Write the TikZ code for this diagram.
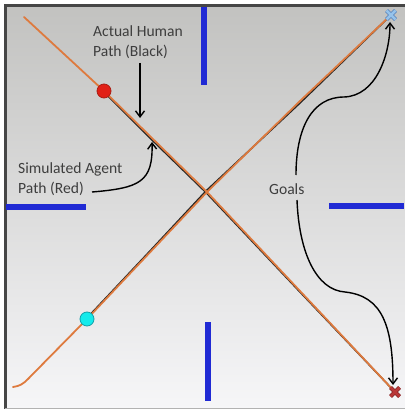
\documentclass[tikz,border=0pt]{standalone}
\usepackage{fontspec}
\setmainfont{Carlito}
\usetikzlibrary{arrows.meta,calc}
\definecolor{pathorange}{RGB}{222,122,62}
\definecolor{pathblack}{RGB}{40,38,36}
\definecolor{wallblue}{RGB}{32,42,212}
\definecolor{txtgray}{RGB}{62,62,62}
\definecolor{bgtop}{RGB}{194,194,192}
\definecolor{bgbot}{RGB}{246,246,248}
\definecolor{framegray}{RGB}{70,70,70}
\definecolor{startred}{RGB}{225,32,22}
\definecolor{startredd}{RGB}{170,30,20}
\definecolor{startcyan}{RGB}{20,235,235}
\definecolor{startcyand}{RGB}{20,160,170}
\definecolor{goalblue}{RGB}{150,195,235}
\definecolor{goalblued}{RGB}{80,125,185}
\definecolor{goalred}{RGB}{185,55,55}
\definecolor{goalredd}{RGB}{130,35,35}
\tikzset{
  lbl/.style={font=\fontsize{15.6}{20}\selectfont, text=txtgray, align=left, inner sep=0pt, anchor=base west},
  wall/.style={fill=wallblue, draw=none},
  opath/.style={draw=pathorange, line width=1.8pt, line cap=round, line join=round},
  bpath/.style={draw=pathblack, line width=1.6pt, line cap=round, line join=round},
  callout/.style={draw=black, line width=1.4pt, -{Straight Barb[length=6pt,width=9pt,line width=1.4pt]}},
  startdot/.style={circle, minimum size=14pt, inner sep=0pt, line width=0.8pt},
  goalpt/.style={inner sep=0pt, minimum size=1pt}
}
\begin{document}
\begin{tikzpicture}[x=1pt,y=-1pt]
\useasboundingbox (0,0) rectangle (404,409);
% background and frame
\shade[top color=bgtop, bottom color=bgbot] (5,5) rectangle (406,409);
\draw[framegray, line width=2.5pt] (5.5,409) -- (5.5,5.5) -- (406,5.5);
\draw[gray!60, line width=1pt] (5,408) -- (406,408);
% walls
\fill[wall] (201,7) rectangle (207,85);
\fill[wall] (6,204) rectangle (86,210);
\fill[wall] (329,203) rectangle (404,209);
\fill[wall] (205,322) rectangle (211,401);
% nodes
\node[goalpt] (g1) at (391,15) {};
\node[goalpt] (g2) at (395,392) {};
\coordinate (a1) at (24,17);
\coordinate (b1) at (13,387);
\coordinate (x) at (207,192);
% black paths (human)
\draw[bpath] (104,92) -- (150,138) -- (207,193.5) -- (300,292) -- (g2);
\draw[bpath] (87,318) -- (150,251) -- (206,191) -- (300,103) -- (g1);
% orange paths (agent)
\draw[opath] (a1) -- (104,91) -- (x) -- (300,291) -- (g2);
\draw[opath] (b1) .. controls (20,386) and (23,384) .. (28,379) -- (87,319) -- (x) -- (300,101) -- (g1);
% start points
\node[startdot, fill=startred, draw=startredd] (s1) at (104,91) {};
\node[startdot, fill=startcyan, draw=startcyand] (s2) at (87,319) {};
% goals
\draw[goalblued, line width=4.2pt] ($(g1)+(-4.5,-4.5)$) -- ($(g1)+(4.5,4.5)$) ($(g1)+(-4.5,4.5)$) -- ($(g1)+(4.5,-4.5)$);
\draw[goalblue, line width=2.6pt] ($(g1)+(-4.5,-4.5)$) -- ($(g1)+(4.5,4.5)$) ($(g1)+(-4.5,4.5)$) -- ($(g1)+(4.5,-4.5)$);
\draw[goalredd, line width=4.2pt] ($(g2)+(-4.5,-4.5)$) -- ($(g2)+(4.5,4.5)$) ($(g2)+(-4.5,4.5)$) -- ($(g2)+(4.5,-4.5)$);
\draw[goalred, line width=2.6pt] ($(g2)+(-4.5,-4.5)$) -- ($(g2)+(4.5,4.5)$) ($(g2)+(-4.5,4.5)$) -- ($(g2)+(4.5,-4.5)$);
% labels
\node[lbl] (human) at (93,57) {Actual Human\\Path (Black)};
\node[lbl] (agent) at (18,193) {Simulated Agent\\Path (Red)};
\node[lbl] (goals) at (269,194) {Goals};
% callouts
\coordinate (h0) at (140,63);
\coordinate (h1) at (140,118);
\draw[callout] (h0) -- (h1);
\coordinate (r0) at (92,192);
\coordinate (r1) at (152,142);
\draw[callout] (r0) .. controls (140,188) and (153,182) .. (r1);
\coordinate (q0) at (296,175);
\coordinate (q1) at (344,97);
\coordinate (q2) at (390,22);
\draw[callout] (q0) .. controls (296,128) and (312,97) .. (q1) .. controls (376,96) and (390,55) .. (q2);
\coordinate (p0) at (297,200);
\coordinate (p1) at (345,292);
\coordinate (p2) at (393,385);
\draw[callout] (p0) .. controls (299,252) and (316,290) .. (p1) .. controls (382,296) and (393,325) .. (p2);
\end{tikzpicture}
\end{document}
